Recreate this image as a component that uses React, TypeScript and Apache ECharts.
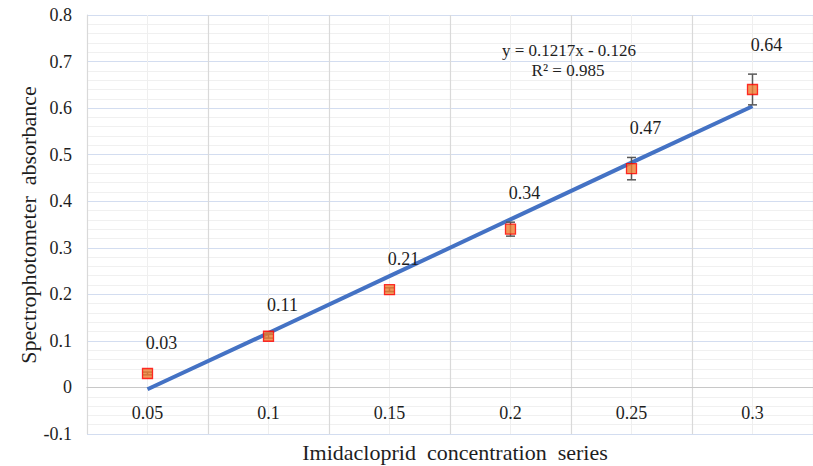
import React, { useEffect, useRef } from "react";
import * as echarts from "echarts";

const categories = ["0.05", "0.1", "0.15", "0.2", "0.25", "0.3"];
const absorbance = [0.03, 0.11, 0.21, 0.34, 0.47, 0.64];
const errors = [0.003, 0.004, 0.004, 0.015, 0.024, 0.033];
const trendValues = [-0.004, 0.117, 0.239, 0.361, 0.483, 0.604];
const labels = ["0.03", "0.11", "0.21", "0.34", "0.47", "0.64"];
const halfBands = ["a", "b", "c", "d", "e", "f", "g", "h", "i", "j", "k", "l"];
const equationLines = ["y = 0.1217x - 0.126", "R² = 0.985"];

const FONT = "Liberation Serif";
const INK = "#1e1e1e";

export default function App() {
  const ref = useRef<HTMLDivElement>(null);
  useEffect(() => {
    if (!ref.current) return;
    const chart = echarts.init(ref.current, undefined, { renderer: "svg" });
    const errData = absorbance.map((v, i) => [i, v - errors[i], v + errors[i]]);
    const labelData = absorbance.map((v, i) => [i, v + errors[i], i]);
    const catLabelData = categories.map((c, i) => [i, 0, i]);
    const txt = (text: string, x: number, y: number, size: number, rot = 0) => ({
      type: "text",
      x,
      y,
      rotation: rot,
      z: 100,
      style: {
        text,
        fontSize: size,
        fontFamily: FONT,
        fill: INK,
        textAlign: "center",
        textVerticalAlign: "middle",
      },
    });
    chart.setOption({
      animation: false,
      backgroundColor: "#ffffff",
      textStyle: { fontFamily: FONT },
      grid: { left: 87, top: 15, width: 738, height: 419, containLabel: false },
      xAxis: [
        {
          type: "category",
          data: categories,
          boundaryGap: true,
          axisLine: { onZero: true, lineStyle: { color: "#c8c8c8", width: 1.2 } },
          axisTick: { show: false },
          axisLabel: { show: false },
          splitLine: { show: true, lineStyle: { color: "#d9d9d9", width: 1.2 } },
          z: 3,
        },
        {
          type: "category",
          data: halfBands,
          boundaryGap: true,
          position: "top",
          axisLine: { show: false },
          axisTick: { show: false },
          axisLabel: { show: false },
          splitLine: { show: true, lineStyle: { color: "#efefef", width: 1 } },
        },
      ],
      yAxis: {
        type: "value",
        min: -0.1,
        max: 0.8,
        interval: 0.1,
        axisLine: { show: true, lineStyle: { color: "#d6dcea", width: 1 } },
        axisTick: { show: false },
        axisLabel: {
          color: INK,
          fontSize: 18,
          fontFamily: FONT,
          margin: 15,
          formatter: (v: number) => {
            const r = Math.round(v * 10) / 10;
            return r === 0 ? "0" : String(r);
          },
        },
        splitLine: { show: true, lineStyle: { color: "#d3ddf0", width: 1.2 } },
        minorTick: { show: false, splitNumber: 5 },
        minorSplitLine: { show: true, lineStyle: { color: "#f0f0f0", width: 1 } },
      },
      graphic: [
        txt(equationLines[0], 569, 50, 17),
        txt(equationLines[1], 568, 70, 17),
        txt("Imidacloprid  concentration  series", 455, 452, 22),
        txt("Spectrophotometer  absorbance", 28, 225, 22, Math.PI / 2),
      ],
      series: [
        {
          type: "line",
          data: trendValues,
          showSymbol: false,
          symbol: "none",
          lineStyle: { color: "#4472C4", width: 4 },
          z: 3,
        },
        {
          type: "custom",
          data: errData,
          z: 4,
          renderItem: (params: any, api: any) => {
            const x = api.coord([api.value(0), api.value(1)])[0];
            const yl = api.coord([api.value(0), api.value(1)])[1];
            const yh = api.coord([api.value(0), api.value(2)])[1];
            const hw = 4.5;
            const st = { stroke: "#595959", lineWidth: 1.5 };
            return {
              type: "group",
              children: [
                { type: "line", shape: { x1: x, y1: yl, x2: x, y2: yh }, style: st },
                { type: "line", shape: { x1: x - hw, y1: yl, x2: x + hw, y2: yl }, style: st },
                { type: "line", shape: { x1: x - hw, y1: yh, x2: x + hw, y2: yh }, style: st },
              ],
            };
          },
        },
        {
          type: "scatter",
          data: absorbance,
          symbol: "rect",
          symbolSize: 10,
          itemStyle: { color: "#ED7D31", borderColor: "#FF0000", borderWidth: 1.3 },
          z: 5,
        },
        {
          type: "custom",
          data: labelData,
          silent: true,
          z: 6,
          renderItem: (params: any, api: any) => {
            const p = api.coord([api.value(0), api.value(1)]);
            return {
              type: "text",
              x: p[0] + 14,
              y: p[1] - 29,
              style: {
                text: labels[api.value(2)],
                fontSize: 18,
                fontFamily: FONT,
                fill: INK,
                textAlign: "center",
                textVerticalAlign: "middle",
              },
            };
          },
        },
        {
          type: "custom",
          data: catLabelData,
          silent: true,
          z: 6,
          renderItem: (params: any, api: any) => {
            const p = api.coord([api.value(0), api.value(1)]);
            return {
              type: "text",
              x: p[0],
              y: p[1] + 26,
              style: {
                text: categories[api.value(2)],
                fontSize: 18,
                fontFamily: FONT,
                fill: INK,
                textAlign: "center",
                textVerticalAlign: "middle",
              },
            };
          },
        },
      ],
    });
    return () => chart.dispose();
  }, []);
  return (
    <div
      ref={ref}
      style={{ position: "fixed", left: 0, top: 0, width: 813, height: 466, background: "#fff" }}
    />
  );
}
